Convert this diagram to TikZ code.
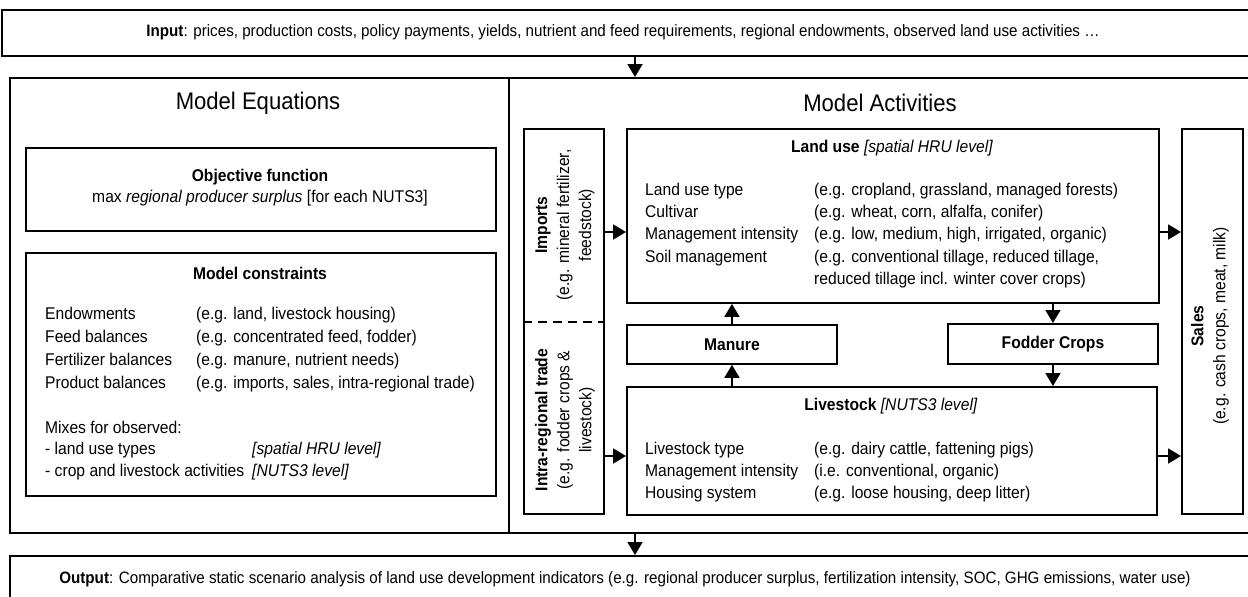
\documentclass[tikz,border=0pt]{standalone}
\usepackage{fontspec}
\setmainfont{Liberation Sans}[FakeStretch=0.92]
\usetikzlibrary{arrows.meta}
\tikzset{
  box/.style={draw, line width=1.9pt, inner sep=0pt, anchor=north west},
  arr/.style={-{Triangle[width=15pt,length=13pt]}, line width=1.9pt},
  body/.style={font=\fontsize{17}{22}\selectfont, inner sep=0pt},
  io/.style={font=\fontsize{16.5}{19}\selectfont, inner sep=0pt},
  head/.style={font=\fontsize{24}{27}\selectfont, inner sep=0pt},
  lbl/.style={body, anchor=mid west},
  rot/.style={body, rotate=90, align=center}
}
\begin{document}
\begin{tikzpicture}[x=1pt,y=-1pt]
\useasboundingbox (0,0) rectangle (1248,597);
\clip (0,0) rectangle (1248,597);
% frames
\node[box, minimum width=1260pt, minimum height=46pt] (input) at (1,9) {};
\node[box, minimum width=499pt, minimum height=455pt] (eq) at (9,77) {};
\node[box, minimum width=760pt, minimum height=455pt] (act) at (508,77) {};
\node[box, minimum width=1260pt, minimum height=60pt] (output) at (9,555) {};
% left side
\node[box, minimum width=470pt, minimum height=83pt] (obj) at (25,147) {};
\node[box, minimum width=470pt, minimum height=243pt] (con) at (25,252) {};
% activities
\node[box, minimum width=80pt, minimum height=385pt] (trade) at (523,128) {};
\draw[line width=1.9pt, dash pattern=on 9pt off 6pt] (trade.west |- 0,322) coordinate (dl) -- (trade.east |- dl);
\node[box, minimum width=532pt, minimum height=174pt] (lu) at (626,128) {};
\node[box, minimum width=210pt, minimum height=39pt] (manure) at (626,324) {};
\node[box, minimum width=210pt, minimum height=40pt] (fodder) at (947,323) {};
\node[box, minimum width=530pt, minimum height=128pt] (ls) at (626,386) {};
\node[box, minimum width=61pt, minimum height=385pt] (sales) at (1181,128) {};
% texts
\node[io] (intxt) at (623,32) {\textbf{Input}: prices, production costs, policy payments, yields, nutrient and feed requirements, regional endowments, observed land use activities \dots};
\node[io] (outtxt) at (625,579) {\textbf{Output}: Comparative static scenario analysis of land use development indicators (e.g. regional producer surplus, fertilization intensity, SOC, GHG emissions, water use)};
\node[head] (eqt) at (258,103) {Model Equations};
\node[head] (actt) at (880,103) {Model Activities};
\node[body] (objt) at (260,177) {\textbf{Objective function}};
\node[body] (objf) at (260,198) {max \textit{regional producer surplus} [for each NUTS3]};
\node[body] (cont) at (260,273) {\textbf{Model constraints}};
\node[lbl] (c1) at (45,317) {Endowments};
\node[lbl] (c2) at (45,340) {Feed balances};
\node[lbl] (c3) at (45,363) {Fertilizer balances};
\node[lbl] (c4) at (45,386) {Product balances};
\node[lbl] (v1) at (196,317) {(e.g. land, livestock housing)};
\node[lbl] (v2) at (196,340) {(e.g. concentrated feed, fodder)};
\node[lbl] (v3) at (196,363) {(e.g. manure, nutrient needs)};
\node[lbl] (v4) at (196,386) {(e.g. imports, sales, intra-regional trade)};
\node[lbl] (m0) at (45,431) {Mixes for observed:};
\node[lbl] (m1) at (45,452) {- land use types};
\node[lbl] (m2) at (45,474) {- crop and livestock activities};
\node[lbl] (m1v) at (252,452) {\textit{[spatial HRU level]}};
\node[lbl] (m2v) at (252,474) {\textit{[NUTS3 level]}};
% rotated
\node[rot] (impt) at (565,225) {\textbf{Imports}\\(e.g. mineral fertilizer,\\feedstock)};
\node[rot] (tradet) at (565,420) {\textbf{Intra-regional trade}\\(e.g. fodder crops \&\\livestock)};
\node[rot] (salest) at (1210,326) {\textbf{Sales}\\(e.g. cash crops, meat, milk)};
% land use
\node[body] (lut) at (892,148) {\textbf{Land use} \textit{[spatial HRU level]}};
\node[lbl] (l1) at (645,193) {Land use type};
\node[lbl] (l2) at (645,215) {Cultivar};
\node[lbl] (l3) at (645,237) {Management intensity};
\node[lbl] (l4) at (645,260) {Soil management};
\node[lbl] (lv1) at (814,193) {(e.g. cropland, grassland, managed forests)};
\node[lbl] (lv2) at (814,215) {(e.g. wheat, corn, alfalfa, conifer)};
\node[lbl] (lv3) at (814,237) {(e.g. low, medium, high, irrigated, organic)};
\node[lbl] (lv4) at (814,260) {(e.g. conventional tillage, reduced tillage,};
\node[lbl] (lv5) at (814,282) {reduced tillage incl. winter cover crops)};
\node[body] (mant) at (manure.center) {\textbf{Manure}};
\node[body] (fodt) at (fodder.center) {\textbf{Fodder Crops}};
% livestock
\node[body] (lst) at (891,406) {\textbf{Livestock} \textit{[NUTS3 level]}};
\node[lbl] (s1) at (645,452) {Livestock type};
\node[lbl] (s2) at (645,474) {Management intensity};
\node[lbl] (s3) at (645,496) {Housing system};
\node[lbl] (sv1) at (814,452) {(e.g. dairy cattle, fattening pigs)};
\node[lbl] (sv2) at (814,474) {(i.e. conventional, organic)};
\node[lbl] (sv3) at (814,496) {(e.g. loose housing, deep litter)};
% arrows
\coordinate (ax) at (635,0);
\coordinate (r1) at (0,232);
\coordinate (r2) at (0,456);
\draw[arr] (input.south -| ax) -- (act.north -| ax);
\draw[arr] (eq.south -| ax) -- (output.north -| ax);
\draw[arr] (trade.east |- r1) -- (lu.west |- r1);
\draw[arr] (trade.east |- r2) -- (ls.west |- r2);
\draw[arr] (lu.east |- r1) -- (sales.west |- r1);
\draw[arr] (ls.east |- r2) -- (sales.west |- r2);
\draw[arr] (manure.north) -- (manure.north |- lu.south);
\draw[arr] (manure.south |- ls.north) -- (manure.south);
\draw[arr] (fodder.north |- lu.south) -- (fodder.north);
\draw[arr] (fodder.south) -- (fodder.south |- ls.north);
\end{tikzpicture}
\end{document}
